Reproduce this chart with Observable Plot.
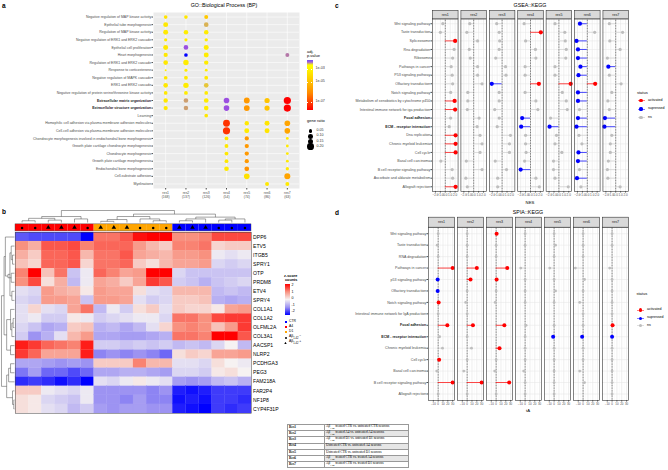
<!DOCTYPE html>
<html><head><meta charset="utf-8">
<script src="https://cdn.jsdelivr.net/npm/d3@7"></script>
<script src="https://cdn.jsdelivr.net/npm/@observablehq/plot@0.6"></script>
<style>
body{margin:0;background:#fff;}
#page{position:relative;width:668px;height:470px;overflow:hidden;font-family:"Liberation Sans",Arial,sans-serif;color:#000;background:#fff;}
#page svg{position:absolute;left:0;top:0;}
.t{position:absolute;white-space:nowrap;line-height:1;}
table.leg{position:absolute;border-collapse:collapse;font-family:"Liberation Serif","Times New Roman",serif;font-size:3.4px;border:0.8px solid #222;}
table.leg td{border:0.3px solid #999;padding:0 1px;height:5.2px;line-height:1;white-space:nowrap;}
</style></head><body><div id="page"></div>
<script>
// ---------------- DATA ----------------
const res = ["res1","res2","res3","res4","res5","res6","res7"];

// panel a: GO::BP
const goTerms = [
 "Negative regulation of MAP kinase activity","Epithelial tube morphogenesis","Regulation of MAP kinase activity",
 "Negative regulation of ERK1 and ERK2 cascade","Epithelial cell proliferation","Heart morphogenesis",
 "Regulation of ERK1 and ERK2 cascade","Response to corticosterone","Negative regulation of MAPK cascade",
 "ERK1 and ERK2 cascade","Negative regulation of protein serine/threonine kinase activity",
 "Extracellular matrix organization","Extracellular structure organization","Learning",
 "Homophilic cell adhesion via plasma membrane adhesion molecules","Cell-cell adhesion via plasma-membrane adhesion molecules",
 "Chondrocyte morphogenesis involved in endochondral bone morphogenesis","Growth plate cartilage chondrocyte morphogenesis",
 "Chondrocyte morphogenesis","Growth plate cartilage morphogenesis","Endochondral bone morphogenesis",
 "Cell-substrate adhesion","Myelination"];
const goBold = ["Extracellular matrix organization","Extracellular structure organization"];
const goGeneCounts = [168,137,126,54,74,86,63];
// [term index, res index, -log10(adj. p.value), gene ratio]
const goDots = [
 [0,0,3.7,.06],[0,1,3.5,.06],[0,2,4.3,.07],
 [1,0,3.4,.11],[1,2,2.8,.095],
 [2,0,3.3,.11],[2,1,3.1,.09],[2,2,3.2,.09],
 [3,0,3.3,.045],[3,1,3.2,.045],[3,2,3.2,.05],
 [4,0,3.4,.11],[4,1,2.3,.095],[4,2,3.2,.11],
 [5,0,3.4,.08],[5,1,1.8,.06],[5,2,3.2,.11],[5,6,2.5,.07],
 [6,0,3.4,.095],[6,1,3.2,.13],[6,2,3.2,.085],
 [7,0,3.2,.018],[7,1,3.2,.04],[7,2,3.2,.035],
 [8,0,3.5,.06],[8,1,3.3,.065],[8,2,3.4,.065],
 [9,0,3.4,.095],[9,1,3.2,.13],[9,2,2.9,.095],
 [10,0,3.4,.06],[10,1,3.2,.065],[10,2,3.3,.06],
 [11,0,3.4,.085],[11,1,2.7,.095],[11,2,3.2,.095],[11,3,2.3,.14],[11,4,5.2,.15],[11,5,4.4,.12],[11,6,7.6,.23],
 [12,0,3.4,.08],[12,1,2.7,.09],[12,2,3.2,.095],[12,3,2.3,.14],[12,4,5.2,.15],[12,5,4.4,.12],[12,6,7.6,.23],
 [13,2,3.5,.06],
 [14,3,6.8,.21],[14,4,3.4,.085],[14,5,3.6,.11],[14,6,5.0,.14],
 [15,3,6.8,.23],[15,4,3.2,.11],[15,5,3.6,.11],[15,6,5.0,.14],
 [16,3,3.4,.065],[16,4,5.2,.08],[16,6,3.3,.035],
 [17,3,3.4,.065],[17,4,5.2,.08],[17,6,3.3,.035],
 [18,3,3.4,.065],[18,4,5.2,.08],[18,6,3.3,.035],
 [19,3,3.4,.065],[19,4,5.2,.08],[19,6,3.3,.035],
 [20,3,3.3,.095],[20,4,5.3,.10],[20,6,3.3,.05],
 [21,4,3.8,.14],[21,6,5.0,.16],
 [22,5,3.4,.07],[22,6,3.3,.07]];

// panel b: heatmap
const hmGenes = ["DPP6","ETV5","ITGB5","SPRY1","OTP","PRDM8","ETV4","SPRY4","COL1A1","COL1A2","OLFML2A","COL3A1","AACSP1","NLRP2","PCDHGA3","PEG3","FAM218A","FAR2P4","NF1P8","CYP4F31P"];
const hmGroup = ["A4","A4","A4","A4","A4","A4","D1","D1","D1","D1","D1","D1","CTR","CTR","CTR","CTR","CTR","CTR"];
const hmShape = ["circle","circle","triangle","triangle","triangle","circle","triangle","triangle","triangle","circle","circle","circle","triangle","triangle","triangle","circle","circle","circle"];
const hmZ = [
 [-1.4,-1.5,-1.5,-1.5,-1.5,-2.0, 1.2,1.2,1.4,1.9,2.0,2.0, 1.0,1.0,1.1,1.5,1.5,1.5],
 [1.0,0.7,1.4,1.4,1.5,1.1, 1.3,1.3,1.3,0.9,0.6,0.4, 1.1,1.1,1.2,0.3,0.4,0.4],
 [0.7,0.4,1.3,1.3,1.4,0.6, 1.2,1.2,1.4,0.8,0.7,0.6, 0.9,0.9,1.0,-0.1,-0.2,-0.1],
 [0.5,0.3,1.3,1.3,1.4,0.3, 1.2,1.2,1.3,0.4,0.2,0.6, 0.8,0.8,0.9,-0.3,-0.4,-0.3],
 [1.1,2.1,0.5,1.2,-0.5,-0.1, 1.3,1.1,0.8,0.9,2.2,2.0, -0.3,-0.5,-0.5,-0.5,-0.5,-0.5],
 [1.0,1.5,0.2,0.7,-0.6,-0.1, 0.8,0.7,0.4,0.8,1.6,1.4, -0.4,-0.5,-0.7,-0.5,-0.4,-0.3],
 [-0.2,-0.3,0.9,0.7,0.6,0.1, 0.9,0.8,0.8,0.2,-0.2,-0.3, 0.6,0.6,0.6,-0.6,-0.5,-0.6],
 [-0.3,-0.4,0.9,0.9,0.8,-0.5, 0.9,0.9,0.8,-0.2,-0.4,-0.3, 0.4,0.4,0.5,-0.7,-0.8,-0.7],
 [-0.2,0.3,-0.2,-0.3,0.8,1.2, -0.6,-0.1,-0.4,0.2,0.4,-0.2, 0.4,0.3,0.3,0.1,0.8,0.9],
 [-0.2,-0.1,-0.4,-0.4,0.1,-0.1, -0.4,-0.3,-0.2,-0.1,-0.1,-0.3, 1.2,1.2,1.0,1.5,1.6,1.6],
 [-0.3,-0.5,-0.8,-0.7,0.4,0.5, -0.7,-0.6,-0.8,-0.6,-0.2,0.3, 1.0,1.1,1.0,0.5,0.9,1.6],
 [-0.4,-1.0,-0.7,-0.2,0.6,0.9, -0.8,-0.8,-0.9,-0.9,-0.8,-0.7, 1.2,1.2,1.1,2.0,2.0,1.4],
 [1.8,1.6,1.3,1.2,1.1,1.8, -0.4,-0.4,-0.5,-0.4,-0.5,-0.4, -0.6,-0.5,-0.6,-0.3,0.0,-0.6],
 [1.6,1.3,0.8,0.8,0.8,1.8, -1.1,-1.0,-1.1,-1.0,-1.1,-1.3, 0.2,0.4,0.3,0.8,0.8,0.9],
 [-0.8,-0.8,-0.9,-1.0,-0.9,-1.0, 0.4,0.4,0.4,1.1,0.6,0.6, -0.2,-0.2,-0.3,0.2,0.0,-0.1],
 [-1.2,-0.9,-1.3,-1.3,-1.5,-1.3, -0.8,-0.8,-0.7,-0.7,-0.8,-0.9, -0.3,-0.3,-0.4,0.1,0.2,0.0],
 [-1.7,-1.6,-1.7,-1.9,-1.7,-2.2, -0.2,-0.3,-0.1,0.1,-0.1,-0.2, -0.9,-1.0,-0.9,-0.6,-0.5,-0.7],
 [0.4,0.4,-0.1,-0.2,-0.3,-0.1, -1.0,-1.0,-1.0,-1.0,-1.1,-1.0, -1.8,-1.9,-1.8,-1.6,-1.6,-1.6],
 [0.2,0.1,-0.3,-0.4,-0.5,-0.1, -1.0,-1.0,-1.1,-0.9,-1.1,-1.1, -1.9,-1.8,-1.9,-1.6,-1.6,-1.7],
 [0.2,0.1,-0.2,-0.3,-0.6,-0.4, -0.9,-1.0,-0.9,-0.9,-1.0,-1.0, -1.8,-1.9,-2.2,-1.6,-1.7,-1.6]];
// hclust-style merges: [left, right, height]; negative = leaf (1-based)
const colMerges = [[-1,-2,.15],[-3,-4,.2],[-5,-6,.3],[1,2,.35],[4,3,.5],[-7,-8,.1],[6,-9,.25],[-11,-12,.15],[-10,8,.3],[7,9,.5],
 [-13,-14,.15],[11,-15,.3],[-16,-17,.2],[13,-18,.3],[12,14,.45],[10,15,.7],[5,16,1.0]];
const rowMerges = [[-3,-4,.15],[-2,1,.25],[-5,-6,.25],[-7,-8,.2],[2,4,.35],[5,3,.5],[-1,6,.7],[-10,-11,.1],[8,-12,.2],[-9,9,.3],
 [-13,-14,.3],[10,11,.6],[7,12,.8],[-15,-16,.3],[14,-17,.45],[-19,-20,.05],[-18,16,.15],[15,17,.6],[13,18,1.0]];

// panel c: GSEA::KEGG
const gseaTerms = ["Wnt signaling pathway","Taste transduction","Spliceosome","Rna degradation","Ribosome","Pathways in cancer",
 "P53 signaling pathway","Olfactory transduction","Notch signaling pathway","Metabolism of xenobiotics by cytochrome p450",
 "Intestinal immune network for iga production","Focal adhesion","ECM - receptor interaction","Dna replication",
 "Chronic myeloid leukemia","Cell cycle","Basal cell carcinoma","B cell receptor signaling pathway",
 "Ascorbate and aldarate metabolism","Allograft rejection"];
const keggBold = ["Focal adhesion","ECM - receptor interaction"];
const gseaNES = [
 [-0.5,-1.0,2.0,1.8,1.5,1.2,1.4,1.5,1.1,1.9,2.0,1.1,0.8,2.1,2.1,2.1,-0.9,1.4,1.5,2.1],
 [-0.8,-1.4,0.8,-0.9,-0.7,0.8,0.8,1.7,-1.2,-1.2,-1.3,1.1,0.7,1.3,1.7,1.3,-1.5,1.7,-1.6,-1.3],
 [-1.1,-0.6,-0.5,-0.6,-1.3,0.7,0.8,-2.1,-0.6,-0.6,-1.5,-0.6,-1.0,1.7,1.5,1.5,-1.4,0.9,-0.9,-0.9],
 [-1.3,2.1,-1.0,1.0,1.1,-1.1,-1.1,1.7,-1.1,1.1,1.5,-1.7,-1.9,-1.0,-1.0,-0.9,-1.2,-2.0,1.1,1.8],
 [-0.8,1.2,1.3,1.5,1.4,-0.8,-0.8,2.4,0.7,1.5,1.7,-1.7,-1.9,-0.5,-0.8,0.6,-1.1,-1.1,-0.8,1.9],
 [-1.5,1.5,-2.2,-1.9,-1.9,-1.4,-1.8,1.6,-1.9,-1.9,-1.6,-1.9,-2.2,-1.7,-1.1,-1.8,-1.9,-1.6,-2.1,-1.3],
 [-1.3,1.4,-1.2,0.9,-1.7,-1.5,-1.3,1.1,-0.8,-1.6,-1.3,-2.2,-2.3,-0.8,-1.1,-1.1,-1.5,-1.7,-1.6,0.9]];
// a = activated, s = supressed, n = ns
const gseaStatus = ["nnannnnnnaannaaannna","nnnnnnnnnnnnnnnnnnnn","nnnnnnnsnnnnnnnnnnnn","nannnnnannnssnnnnsnn",
 "nnnnnnnannnnsnnnnnnn","snsssssassnssnnssnsn","nnnnnsnnnnnssnnnnnnn"];

// panel d: SPIA::KEGG
const spiaTerms = ["Wnt signaling pathway","Taste transduction","RNA degradation","Pathways in cancer","p53 signaling pathway",
 "Olfactory transduction","Notch signaling pathway","Intestinal immune network for IgA production","Focal adhesion",
 "ECM - receptor interaction","Chronic myeloid leukemia","Cell cycle","Basal cell carcinoma","B cell receptor signaling pathway",
 "Allograft rejection"];
const spiaTA = [
 [0,-2,0,30,-1,-1,1,0,19,3,9,2,-3,30,0],
 [0,0,0,20,7,0,-3,0,12,0,9,0,-7,30,0],
 [1,0,0,23,1,0,-2,null,17,null,7,0,-3,27,0],
 [0,0,null,-9,0,0,0,null,2,0,0,0,-3,0,0],
 [0,3,0,-9,0,3,0,null,0,-2,0,0,0,0,0],
 [0,0,0,-16,3,0,-7,0,0,-2,0,0,-7,3,null],
 [0,0,null,-5,0,0,0,0,1,0,0,0,0,0,0]];
const spiaStatus = ["nnnassanannanan","nnnaannnannnnan","annaannnanannan","nnnnnnnnnnnnnnn","nnnnnnnnnsnnnnn","nnnnnnnnnsnnnnn","nnnnnnnnasnnnnn"];

const tableRows = [["Res1","Aβ<sub>1-42</sub> treated CTR vs. untreated CTR neurons"],["Res2","Aβ<sub>1-42</sub> treated A4 vs. untreated A4 neurons"],
 ["Res3","Aβ<sub>1-42</sub> treated D1 vs. untreated D1 neurons"],["Res4","Untreated CTR vs. untreated A4 neurons"],
 ["Res5","Untreated CTR vs. untreated D1 neurons"],["Res6","Aβ<sub>1-42</sub> treated CTR vs. treated A4 neurons"],
 ["Res7","Aβ<sub>1-42</sub> treated CTR vs. treated D1 neurons"]];

// ---------------- HELPERS ----------------
const page = document.getElementById("page");
const FONT = "'Liberation Sans',Arial,sans-serif";
const ST = `background:none;overflow:visible;font-family:${FONT};font-size:3.6px;color:#4d4d4d;`;
function put(svg){ page.appendChild(svg); }
function txt(html, x, y, o={}){
  const d = document.createElement("div"); d.className="t"; d.innerHTML = html;
  const ax = o.anchor==="middle" ? "-50%" : o.anchor==="end" ? "-100%" : "0";
  d.style.cssText += `left:${x}px;top:${y}px;font-size:${o.size||4}px;font-weight:${o.weight||"normal"};color:${o.color||"#000"};transform:translate(${ax},-50%);`;
  page.appendChild(d); return d;
}
function box(x,y,w,h,css){ const d=document.createElement("div"); d.style.cssText=`position:absolute;left:${x}px;top:${y}px;width:${w}px;height:${h}px;${css}`; page.appendChild(d); return d; }
const code = {a:"activated", s:"supressed", n:"ns"};
const statusColor = {domain:["activated","supressed","ns"], range:["#ff0000","#0000ff","#bebebe"]};

// ---------------- PANEL A ----------------
const goColStops = [1.8,2.3,3.1,3.9,5.2,7.6];
const goColRange = ["#0000ff","#9b4fe0","#ffee00","#ffdf00","#ff9900","#ff0000"];
const plotA = Plot.plot({
  width:668, height:470, marginLeft:153, marginRight:668-299, marginTop:12, marginBottom:470-188,
  style: ST,
  x:{type:"point", domain:res, padding:0.6, round:false},
  y:{type:"point", domain:goTerms, padding:0.6, round:false},
  color:{type:"linear", domain:goColStops, range:goColRange},
  r:{type:"sqrt", domain:[0,0.2], range:[0,3.35]},
  marks:[
    Plot.frame({fill:"#ebebeb"}),
    Plot.gridX({stroke:"#fff", strokeOpacity:1, strokeWidth:0.6}),
    Plot.gridY({stroke:"#fff", strokeOpacity:1, strokeWidth:0.6}),
    Plot.axisX({tickSize:1.5, tickPadding:0.8, label:null, lineHeight:1.25, fontSize:3.4,
      tickFormat: d => `${d}\n(${goGeneCounts[res.indexOf(d)]})`}),
    Plot.axisY(goTerms.filter(t=>!goBold.includes(t)), {tickSize:1.5, tickPadding:0.8, label:null, fontSize:3.5}),
    Plot.axisY(goBold, {tickSize:1.5, tickPadding:0.8, label:null, fontSize:3.5, fontWeight:"bold", fill:"#1a1a1a"}),
    Plot.dot(goDots, {x:d=>res[d[1]], y:d=>goTerms[d[0]], r:d=>d[3], fill:d=>d[2]})
  ]
});
put(plotA);

// ---------------- PANEL B ----------------
function dendroSegs(merges){
  const pos=[], ht=[], segs=[];
  const node = k => k<0 ? {p:-k-1+0.5, h:0} : {p:pos[k-1], h:ht[k-1]};
  merges.forEach(([a,b,h])=>{
    const A=node(a), B=node(b);
    segs.push({p1:A.p,h1:A.h,p2:A.p,h2:h},{p1:B.p,h1:B.h,p2:B.p,h2:h},{p1:A.p,h1:h,p2:B.p,h2:h});
    pos.push((A.p+B.p)/2); ht.push(h);
  });
  return segs;
}
const hmCells = [];
hmZ.forEach((row,i)=>row.forEach((z,j)=>hmCells.push({r:i,c:j,z})));
const cols = hmGroup.map((g,j)=>({c:j, g, s:hmShape[j]}));
const groupCol = {A4:"#ff0000", D1:"#ffa500", CTR:"#0000ff"};
const hmRange = ["#0000ff","#9d93f2","#f6f2f2","#f8917f","#ff0000"];
const colSegs = dendroSegs(colMerges), rowSegs = dendroSegs(rowMerges);
const plotB = Plot.plot({
  width:668, height:470, marginLeft:15, marginRight:668-251, marginTop:232, marginBottom:470-413,
  style: ST,
  x:{domain:[0,18], axis:null}, y:{domain:[0,20], reverse:true, axis:null},
  color:{type:"linear", domain:[-2,-1,0,1,2], range:hmRange},
  marks:[
    Plot.rect(hmCells, {x1:"c", x2:d=>d.c+1, y1:"r", y2:d=>d.r+1, fill:"z", stroke:"z", strokeWidth:0.2}),
    Plot.frame({stroke:"#444", strokeWidth:0.5}),
    ...Object.keys(groupCol).map(g => Plot.rect(cols.filter(d=>d.g===g), {x1:"c", x2:d=>d.c+1, y1:-0.9, y2:-0.12, fill:groupCol[g]})),
    Plot.rect([0], {x1:0, x2:18, y1:-0.9, y2:-0.12, stroke:"#444", strokeWidth:0.4, fill:"none"}),
    Plot.dot(cols.filter(d=>d.s==="circle"), {x:d=>d.c+0.5, y:-0.51, r:1.25, fill:"#000", symbol:"circle"}),
    Plot.dot(cols.filter(d=>d.s==="triangle"), {x:d=>d.c+0.5, y:-0.55, r:1.7, fill:"#000", symbol:"triangle"}),
    Plot.link(colSegs, {x1:"p1", x2:"p2", y1:d=>-1.1-d.h1*1.33, y2:d=>-1.1-d.h2*1.33, stroke:"#444", strokeWidth:0.5}),
    Plot.link(rowSegs, {x1:d=>-0.08-d.h1*0.99, x2:d=>-0.08-d.h2*0.99, y1:"p1", y2:"p2", stroke:"#444", strokeWidth:0.5}),
    Plot.text(hmGenes, {x:18, y:(d,i)=>i+0.5, text:d=>d, textAnchor:"start", dx:1.6, fontSize:5.1, fill:"#000"})
  ]
});
put(plotB);

// ---------------- PANELS C & D ----------------
function lolli({terms, vals, stat, left, right, top, bottom, xdom, ticks, minor, pad, rSig, rNs, tickFont}){
  const rows=[];
  res.forEach((r,j)=>terms.forEach((t,i)=>{ const v=vals[j][i]; if(v!==null) rows.push({res:r, term:t, v, status:code[stat[j][i]]}); }));
  const sig = rows.filter(d=>d.status!=="ns"), ns = rows.filter(d=>d.status==="ns");
  return Plot.plot({
    width:668, height:470, marginLeft:left, marginRight:668-right, marginTop:top, marginBottom:470-bottom,
    style: ST,
    fx:{domain:res, paddingInner:0.1, paddingOuter:0, axis:null, round:false},
    x:{domain:xdom, round:false},
    y:{type:"point", domain:terms, padding:pad, round:false},
    color: statusColor,
    marks:[
      Plot.frame({fill:"#fff"}),
      Plot.gridX({ticks:minor, stroke:"#f0f0f0", strokeOpacity:1, strokeWidth:0.3}),
      Plot.gridX({ticks, stroke:"#dedede", strokeOpacity:1, strokeWidth:0.5}),
      Plot.gridY({stroke:"#e4e4e4", strokeOpacity:1, strokeWidth:0.5}),
      Plot.ruleX([0], {stroke:"#000", strokeWidth:0.6, strokeDasharray:"0.8,0.8"}),
      Plot.ruleY(ns, {fx:"res", y:"term", x1:0, x2:"v", stroke:"#bebebe", strokeOpacity:0.55, strokeWidth:0.8}),
      Plot.ruleY(sig, {fx:"res", y:"term", x1:0, x2:"v", stroke:"status", strokeOpacity:0.8, strokeWidth:0.9}),
      Plot.dot(ns, {fx:"res", x:"v", y:"term", r:rNs, fill:"status"}),
      Plot.dot(sig, {fx:"res", x:"v", y:"term", r:rSig, fill:"status"}),
      Plot.frame({stroke:"#333", strokeWidth:0.6}),
      Plot.axisX({ticks, tickSize:1.5, tickPadding:0.6, label:null, fontSize:tickFont}),
      Plot.axisY(terms.filter(t=>!keggBold.includes(t)), {tickSize:1.5, tickPadding:0.8, label:null, fontSize:3.6}),
      Plot.axisY(keggBold.filter(t=>terms.includes(t)), {tickSize:1.5, tickPadding:0.8, label:null, fontSize:3.6, fontWeight:"bold", fill:"#1a1a1a"})
    ]
  });
}
function strips(left, right, top, bottom){
  return Plot.plot({
    width:668, height:470, marginLeft:left, marginRight:668-right, marginTop:top, marginBottom:470-bottom,
    style: ST,
    fx:{domain:res, paddingInner:0.1, paddingOuter:0, axis:null, round:false},
    x:{domain:[0,1], axis:null}, y:{domain:[0,1], axis:null},
    marks:[
      Plot.frame({fill:"#d9d9d9", stroke:"#333", strokeWidth:0.6}),
      Plot.text(res, {fx:d=>d, x:0.5, y:0.5, text:d=>d, fill:"#1a1a1a", fontSize:3.6})
    ]
  });
}
put(lolli({terms:gseaTerms, vals:gseaNES, stat:gseaStatus, left:432, right:628, top:18.5, bottom:191,
  xdom:[-2.6,2.6], ticks:[-2,-1,0,1,2], minor:[-2.5,-1.5,-0.5,0.5,1.5,2.5], pad:0.55, rSig:2.1, rNs:1.6, tickFont:3.1}));
put(strips(432, 628, 10, 18.3));
put(lolli({terms:spiaTerms, vals:spiaTA, stat:spiaStatus, left:428, right:628, top:226.7, bottom:400,
  xdom:[-20,34], ticks:[-10,0,10,20,30], minor:[-15,-5,5,15,25], pad:0.57, rSig:2.0, rNs:1.4, tickFont:2.9}));
put(strips(428, 628, 216.7, 226.7));

// ---------------- TEXT, LEGENDS, TABLE ----------------
txt("a", 2, 6, {size:6.5, weight:"bold"});
txt("b", 2, 212, {size:6.5, weight:"bold"});
txt("c", 335, 5.5, {size:6.5, weight:"bold"});
txt("d", 335, 213, {size:6.5, weight:"bold"});
txt("GO::Biological Process (BP)", 224, 6, {size:5.3, anchor:"middle"});
txt("GSEA::KEGG", 530, 5.5, {size:5.3, anchor:"middle"});
txt("SPIA::KEGG", 528, 213, {size:5.3, anchor:"middle"});
txt("NES", 530, 202.5, {size:4.3, anchor:"middle"});
txt("tA", 528, 411, {size:4.3, anchor:"middle"});

// panel a legends
txt("adj.", 307, 51.5, {size:4});
txt("p.value", 307, 56, {size:4});
box(307, 59.5, 5.5, 50.5, "background:linear-gradient(to bottom,#7050f0 0%,#a060e0 4%,#ffff00 10%,#ffee00 22%,#ffc400 42%,#ff8a00 66%,#ff2a00 90%,#ff0000 100%);");
[["1e-03",69],["1e-05",82],["1e-07",102]].forEach(([s,y])=>{
  box(307, y-0.2, 1.2, 0.4, "background:#fff;"); box(311.3, y-0.2, 1.2, 0.4, "background:#fff;");
  txt(s, 315.5, y, {size:3.6, color:"#333"});
});
txt("gene ratio", 307, 121.3, {size:4});
[[0.05,131],[0.10,136.3],[0.15,141.5],[0.20,146.7]].forEach(([v,y])=>{
  const rr = Math.sqrt(v/0.2)*3.35;
  box(310.6-rr, y-rr, 2*rr, 2*rr, "background:#000;border-radius:50%;");
  txt(v.toFixed(2), 316.5, y, {size:3.6, color:"#333"});
});

// panel b legend
txt("z-score", 284, 276.5, {size:3.8, weight:"bold"});
txt("counts", 285, 281, {size:3.8, weight:"bold"});
box(284.5, 284, 5.5, 30.5, `background:linear-gradient(to bottom,${hmRange.slice().reverse().join(",")});`);
[["2",286],["1",292.5],["0",299],["-1",305.5],["-2",312]].forEach(([s,y])=>txt(s, 291.5, y, {size:3.6}));
[["CTR","#0000ff",322.3],["A4","#ff0000",327],["D1","#ffa500",332]].forEach(([s,c,y])=>{
  box(284.5, y-1, 2, 2, `background:${c};`); txt(s, 289, y, {size:3.4});
});
box(284.5, 337.3, 2, 2, "background:#000;border-radius:50%;");
txt("Aβ<sub style='font-size:2.6px'>1-42</sub> −", 289, 338.3, {size:3.4});
box(284.3, 341.8, 2.4, 2.2, "background:#000;clip-path:polygon(50% 0,100% 100%,0 100%);");
txt("Aβ<sub style='font-size:2.6px'>1-42</sub> +", 289, 343.3, {size:3.4});

// panel c / d status legends
function statusLegend(x, ty, ys, lx){
  txt("status", x, ty, {size:4});
  [["activated","#ff0000"],["supressed","#0000ff"],["ns","#bebebe"]].forEach(([s,c],i)=>{
    box(x+0.5, ys[i]-0.4, 7, 0.8, `background:${c};opacity:0.5;`);
    box(x+2.4, ys[i]-1.6, 3.2, 3.2, `background:${c};border-radius:50%;`);
    txt(s, lx, ys[i], {size:3.6});
  });
}
statusLegend(637, 92.7, [100.5,109,117.7], 648);
statusLegend(636.5, 294.3, [310,318.3,325.7], 647);

// table
const tb = document.createElement("table"); tb.className="leg";
tb.style.left="287px"; tb.style.top="424px"; tb.style.width="122px";
tableRows.forEach(([k,v],i)=>{
  const tr=document.createElement("tr");
  tr.innerHTML = `<td style="width:34px;font-weight:bold;background:#fff">${k}</td><td style="background:${i%2? "#e6e6e6":"#fff"}">${v.replace("<sub>","<sub style='font-size:2.4px'>")}</td>`;
  tb.appendChild(tr);
});
page.appendChild(tb);
</script>
</body></html>
